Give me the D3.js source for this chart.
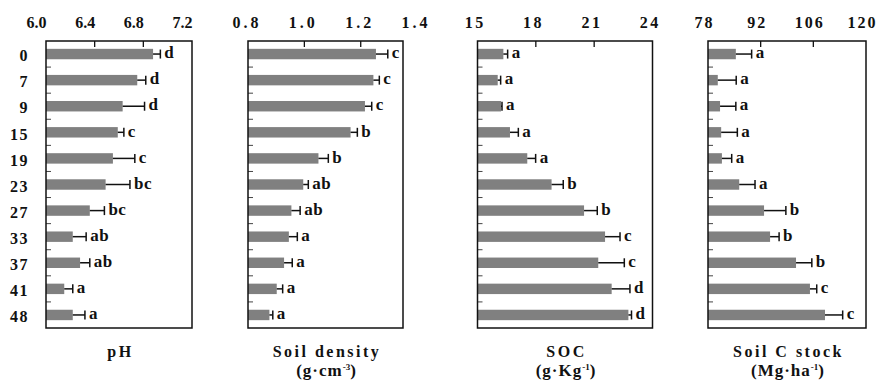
<!DOCTYPE html>
<html>
<head>
<meta charset="utf-8">
<script src="https://cdn.jsdelivr.net/npm/d3@7/dist/d3.min.js"></script>
<style>
  html, body { margin: 0; padding: 0; background: #fff; }
  svg { display: block; }
  text { font-family: "Liberation Serif", "Times New Roman", serif; font-weight: bold; fill: #111; }
</style>
</head>
<body>
<svg id="chart" width="877" height="381"></svg>
<script>
// Years since conversion (row labels, top to bottom)
const years = ["0", "7", "9", "15", "19", "23", "27", "33", "37", "41", "48"];

// pH
const phMean = [6.88, 6.75, 6.63, 6.59, 6.55, 6.49, 6.36, 6.22, 6.28, 6.15, 6.22];
const phErr  = [0.06, 0.07, 0.18, 0.05, 0.18, 0.20, 0.12, 0.11, 0.08, 0.07, 0.10];
const phSig  = ["d", "d", "d", "c", "c", "bc", "bc", "ab", "ab", "a", "a"];
const phTicks = [6.0, 6.4, 6.8, 7.2];

// Soil bulk density (g·cm-3)
const bdMean = [1.254, 1.245, 1.215, 1.164, 1.050, 0.996, 0.954, 0.945, 0.928, 0.902, 0.876];
const bdErr  = [0.042, 0.021, 0.024, 0.024, 0.035, 0.018, 0.031, 0.030, 0.029, 0.021, 0.012];
const bdSig  = ["c", "c", "c", "b", "b", "ab", "ab", "a", "a", "a", "a"];
const bdTicks = [0.8, 1.0, 1.2, 1.4];

// Soil organic carbon (g·Kg-1)
const socMean = [16.33, 16.04, 16.21, 16.67, 17.56, 18.81, 20.48, 21.56, 21.21, 21.90, 22.76];
const socErr  = [0.22, 0.15, 0.05, 0.43, 0.43, 0.60, 0.68, 0.77, 1.34, 0.94, 0.16];
const socSig  = ["a", "a", "a", "a", "a", "b", "b", "c", "c", "d", "d"];
const socTicks = [15, 18, 21, 24];

// Soil C stock (Mg·ha-1)
const stockMean = [85.4, 80.6, 81.2, 81.5, 81.7, 86.3, 92.9, 94.5, 101.4, 105.1, 109.1];
const stockErr  = [4.2, 4.9, 4.2, 4.3, 2.6, 4.2, 5.8, 2.4, 4.2, 1.8, 4.7];
const stockSig  = ["a", "a", "a", "a", "a", "a", "b", "b", "b", "c", "c"];
const stockTicks = [78, 92, 106, 120];

const svg = d3.select("#chart");
const frameTop = 41, frameBottom = 328;
const serif = '"Liberation Serif", "Times New Roman", serif';

const y = d3.scaleBand()
  .domain(years)
  .range([frameTop, frameBottom])
  .paddingInner(0.6)
  .paddingOuter(0.3);

const panels = [
  { mean: phMean, err: phErr, sig: phSig, ticks: phTicks, domain: [6.0, 7.2],
    left: 46, right: 192, fmt: d3.format(".1f"), labelDx: -10, spacing: 0,
    title: "pH", unit: null },
  { mean: bdMean, err: bdErr, sig: bdSig, ticks: bdTicks, domain: [0.8, 1.35],
    left: 248, right: 403, fmt: d3.format(".1f"), labelDx: -3, spacing: 3,
    title: "Soil density", unit: ["(g·cm", "-3", ")"] },
  { mean: socMean, err: socErr, sig: socSig, ticks: socTicks, domain: [15, 24],
    left: 477.5, right: 652.5, fmt: d3.format("d"), labelDx: -4, spacing: 2.5,
    title: "SOC", unit: ["(g·Kg", "-1", ")"] },
  { mean: stockMean, err: stockErr, sig: stockSig, ticks: stockTicks, domain: [78, 120],
    left: 708, right: 866, fmt: d3.format("d"), labelDx: -5, spacing: 2,
    title: "Soil C stock", unit: ["(Mg·ha", "-1", ")"] }
];

// Row labels on the left of the first panel
svg.append("g")
  .selectAll("text")
  .data(years)
  .join("text")
  .attr("x", 29)
  .attr("y", d => y(d) + y.bandwidth() / 2)
  .attr("dy", "0.45em")
  .attr("text-anchor", "end")
  .style("font-family", serif)
  .style("font-size", "16px")
  .style("letter-spacing", "1.5px")
  .text(d => d);

panels.forEach(p => {
  const x = d3.scaleLinear().domain(p.domain).range([p.left, p.right]);
  const g = svg.append("g");
  const rows = years.map((yr, i) => ({ yr, m: p.mean[i], e: p.err[i], s: p.sig[i] }));

  // Top value axis (labels only)
  const axis = g.append("g")
    .attr("transform", `translate(0,${frameTop - 13})`)
    .call(d3.axisTop(x).tickValues(p.ticks).tickFormat(p.fmt).tickSize(0).tickPadding(0));
  axis.attr("font-family", null).attr("font-size", null);
  axis.select(".domain").remove();
  axis.selectAll("text")
    .attr("dx", p.labelDx + p.spacing / 2)
    .style("font-size", "16px")
    .style("letter-spacing", p.spacing + "px")
    .style("font-family", serif)
    .style("font-weight", "bold")
    .attr("fill", "#111");

  // Inner tick marks along the top edge
  const inner = p.ticks.filter(t => x(t) > p.left + 1 && x(t) < p.right - 1);
  g.selectAll("line.vt")
    .data(inner)
    .join("line")
    .attr("class", "vt")
    .attr("x1", d => x(d)).attr("x2", d => x(d))
    .attr("y1", frameTop).attr("y2", frameTop + 6)
    .attr("stroke", "#111").attr("stroke-width", 1.3);

  // Row separator ticks on the left edge
  g.selectAll("line.ht")
    .data(years.slice(1))
    .join("line")
    .attr("class", "ht")
    .attr("x1", p.left).attr("x2", p.left + 5)
    .attr("y1", d => y(d) - y.step() * y.paddingInner() / 2)
    .attr("y2", d => y(d) - y.step() * y.paddingInner() / 2)
    .attr("stroke", "#444").attr("stroke-width", 1);

  // Bars
  g.selectAll("rect.bar")
    .data(rows)
    .join("rect")
    .attr("class", "bar")
    .attr("x", x(p.domain[0]))
    .attr("y", d => y(d.yr))
    .attr("width", d => x(d.m) - x(p.domain[0]))
    .attr("height", y.bandwidth())
    .attr("fill", "#808080");

  // Error bars (one-sided)
  g.selectAll("line.eb")
    .data(rows)
    .join("line")
    .attr("class", "eb")
    .attr("x1", d => x(d.m)).attr("x2", d => x(d.m + d.e))
    .attr("y1", d => y(d.yr) + y.bandwidth() / 2)
    .attr("y2", d => y(d.yr) + y.bandwidth() / 2)
    .attr("stroke", "#111").attr("stroke-width", 1.5);
  g.selectAll("line.cap")
    .data(rows)
    .join("line")
    .attr("class", "cap")
    .attr("x1", d => x(d.m + d.e)).attr("x2", d => x(d.m + d.e))
    .attr("y1", d => y(d.yr) + y.bandwidth() / 2 - 4.5)
    .attr("y2", d => y(d.yr) + y.bandwidth() / 2 + 4.5)
    .attr("stroke", "#111").attr("stroke-width", 1.5);

  // Significance letters
  g.selectAll("text.sig")
    .data(rows)
    .join("text")
    .attr("class", "sig")
    .attr("x", d => x(d.m + d.e) + 4)
    .attr("y", d => y(d.yr) + y.bandwidth() / 2)
    .attr("dy", "0.25em")
    .style("font-family", serif)
    .style("font-size", "17px")
    .style("letter-spacing", "0.5px")
    .text(d => d.s);

  // Frame
  g.append("rect")
    .attr("x", p.left).attr("y", frameTop)
    .attr("width", p.right - p.left).attr("height", frameBottom - frameTop)
    .attr("fill", "none").attr("stroke", "#111").attr("stroke-width", 1.5);

  // Panel titles below the frame
  const cx = (p.left + p.right) / 2;
  g.append("text")
    .attr("x", cx + 1.5).attr("y", 357)
    .attr("text-anchor", "middle")
    .style("font-family", serif)
    .style("font-size", "16px")
    .style("letter-spacing", "2.5px")
    .text(p.title);
  if (p.unit) {
    const u = g.append("text")
      .attr("x", cx + 1).attr("y", 376)
      .attr("text-anchor", "middle")
      .style("font-family", serif)
      .style("font-size", "17px")
      .style("letter-spacing", "1px");
    u.append("tspan").text(p.unit[0]);
    u.append("tspan").attr("dy", "-6").style("font-size", "9px").style("letter-spacing", "0px").text(p.unit[1]);
    u.append("tspan").attr("dy", "6").text(p.unit[2]);
  }
});
</script>
</body>
</html>
